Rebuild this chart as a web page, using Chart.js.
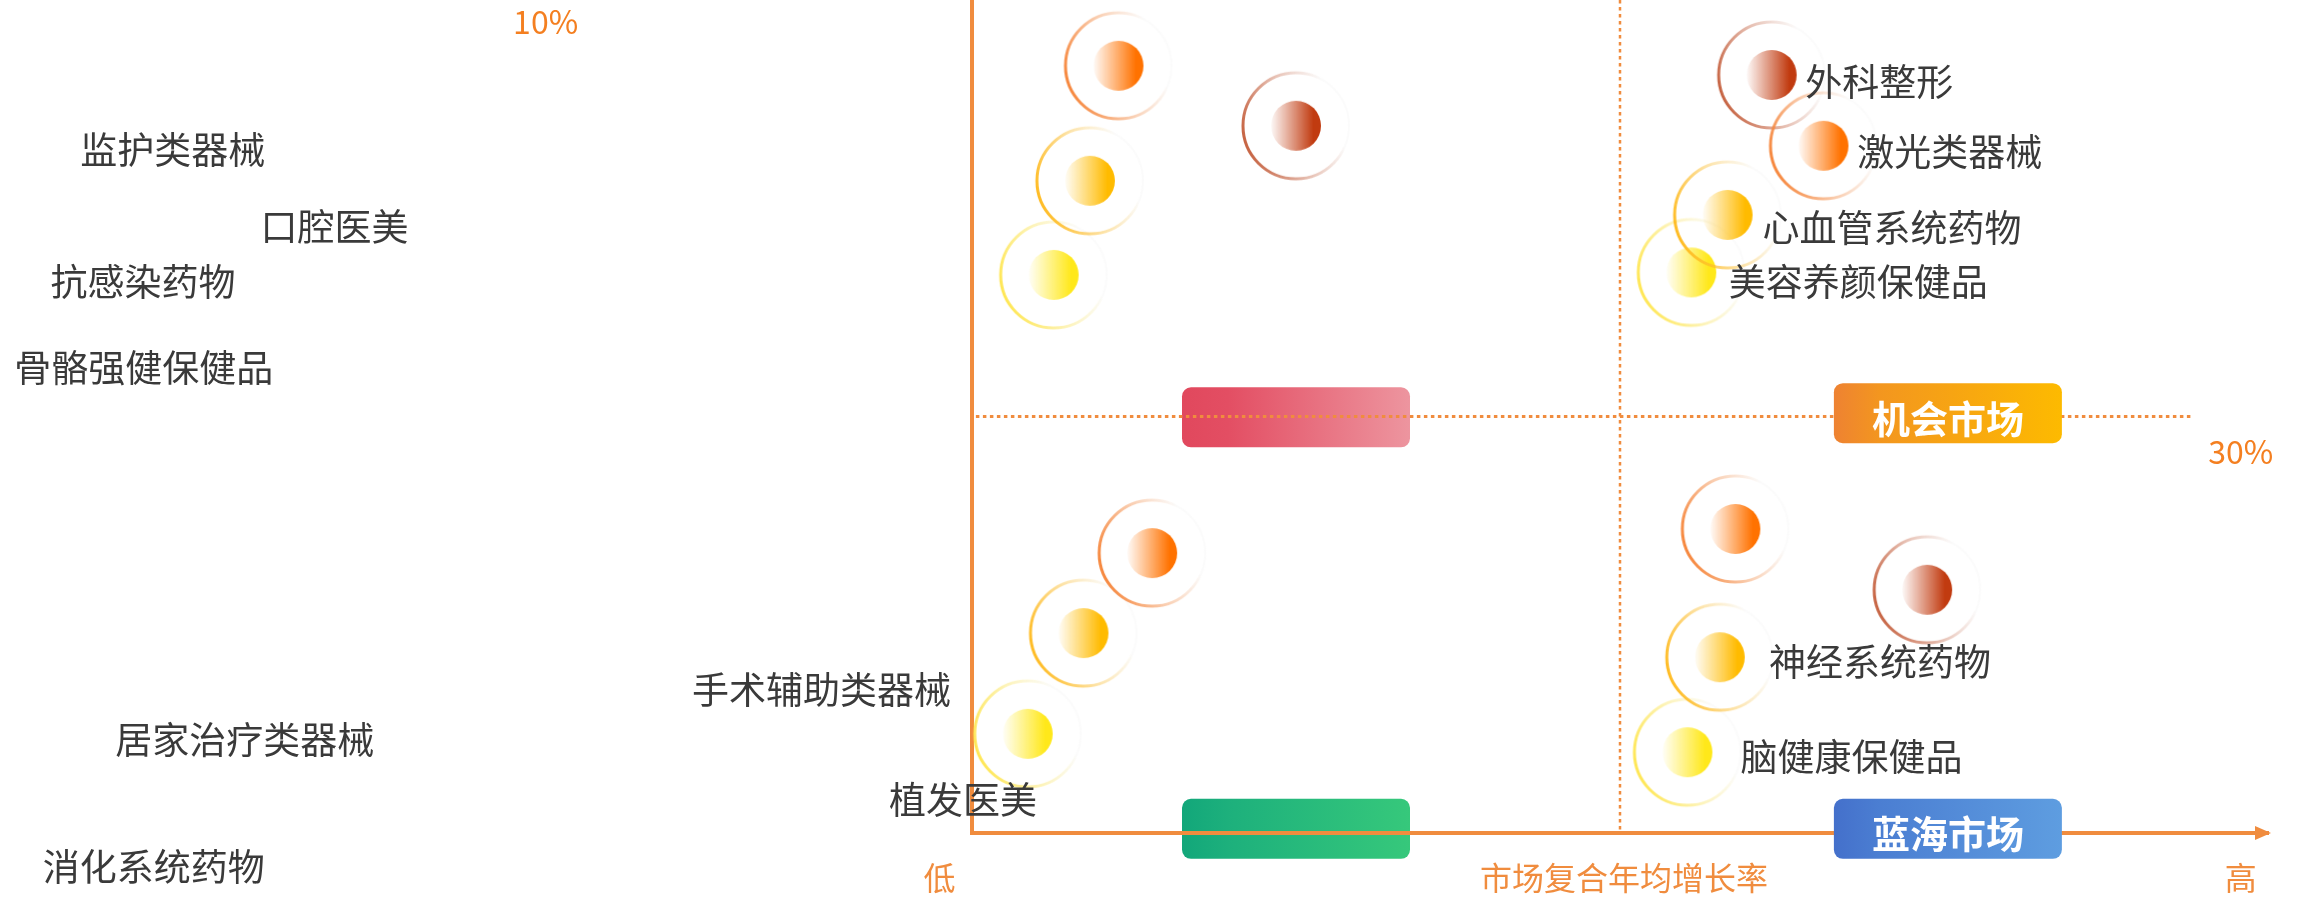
<!DOCTYPE html>
<html>
<head>
<meta charset="utf-8">
<script src="https://cdn.jsdelivr.net/npm/chart.js@4.4.1/dist/chart.umd.min.js"></script>
<style>
  html, body { margin: 0; padding: 0; background: #fff; }
  #wrap { width: 2300px; height: 901px; position: relative; }
</style>
</head>
<body>
<div id="wrap"><canvas id="matrix"></canvas></div>
<script>
// 细分领域：横轴 = 市场复合年均增长率（0 低 ~ 100 高），纵轴 0 ~ 100，象限分界 50
const names = ['监护类器械', '口腔医美', '抗感染药物', '骨骼强健保健品',
  '外科整形', '激光类器械', '心血管系统药物', '美容养颜保健品',
  '手术辅助类器械', '消化系统药物', '', '居家治疗类器械', '植发医美',
  '神经系统药物', '脑健康保健品'];
const groups = [0, 1, 2, 3, 1, 0, 2, 3, 0, 2, 3, 0, 1, 2, 3];
const xValues = [11.3, 25.0, 9.1, 6.3, 61.7, 65.7, 58.3, 55.5, 13.9, 8.6, 4.3, 58.9, 73.7, 57.7, 55.2];
const yValues = [92.1, 84.9, 78.3, 67.0, 91.0, 82.5, 74.2, 67.3, 33.6, 24.0, 11.9, 36.5, 29.2, 21.1, 9.7];
// label anchors, same axis units
const labelX = [-68.8, -54.9, -71.1, -73.9, 64.3, 68.3, 61.0, 58.4, -21.6, -71.7, null, -66.1, -6.4, 61.5, 59.3];
const labelY = [82.0, 72.7, 66.1, 55.8, 90.2, 81.8, 72.6, 66.1, 17.2, -4.1, null, 11.2, 4.0, 20.5, 9.1];

const groupNames = ['器械', '医美', '药物', '保健品'];
const quadrantNames = ['', '机会市场', '', '蓝海市场'];
const quadrantX = [25.0, 75.3, 25.0, 75.3];
const quadrantY = [49.9, 50.4, 0.5, 0.5];

const axisLabels = ['低', '市场复合年均增长率', '高'];
const axisLabelX = [-2.5, 50.3, 97.9];
const axisLabelY = -5.4;
const percentLabels = ['10%', '30%'];
const percentX = [-32.9, 97.9];
const percentY = [97.4, 45.7];

const ORANGE = '#f08c3e';
const palette = [
  {dot: [255, 114, 0], ring: [246, 132, 56]},
  {dot: [193, 59, 16], ring: [197, 96, 62]},
  {dot: [255, 187, 0], ring: [255, 186, 30]},
  {dot: [255, 232, 26], ring: [255, 230, 80]}
];
const boxColors = [
  ['#e1485d', '#e34e63', '#ed959f'],
  ['#ee8232', '#f3961f', '#fdba00'],
  ['#12a77a', '#1db07c', '#36c87b'],
  ['#4470cb', '#4b7ed2', '#5e9de0']
];

function rgba(c, a) { return 'rgba(' + c[0] + ',' + c[1] + ',' + c[2] + ',' + a + ')'; }

function makeMarker(c) {
  const R = 53, r = 25, pad = 9, S = 2 * (R + pad);
  const cv = document.createElement('canvas');
  cv.width = S; cv.height = S;
  const g = cv.getContext('2d');
  const m = S / 2;
  // faint halo
  g.strokeStyle = 'rgba(235,235,235,0.18)';
  g.lineWidth = 2;
  g.shadowColor = 'rgba(0,0,0,0.05)';
  g.shadowBlur = 4;
  g.beginPath(); g.arc(m, m, R, 0, Math.PI * 2); g.stroke();
  g.shadowBlur = 0;
  // ring
  const rg = g.createLinearGradient(m - R, m + R * 0.35, m + R, m - R * 0.35);
  rg.addColorStop(0, rgba(c.ring, 1));
  rg.addColorStop(0.45, rgba(c.ring, 0.4));
  rg.addColorStop(0.85, rgba(c.ring, 0));
  g.strokeStyle = rg;
  g.lineWidth = 3;
  g.beginPath(); g.arc(m, m, R, 0, Math.PI * 2); g.stroke();
  // dot
  const dg = g.createLinearGradient(m - r, 0, m + r, 0);
  dg.addColorStop(0, rgba(c.dot, 0.03));
  dg.addColorStop(0.85, rgba(c.dot, 1));
  dg.addColorStop(1, rgba(c.dot, 1));
  g.fillStyle = dg;
  g.beginPath(); g.arc(m, m, r, 0, Math.PI * 2); g.fill();
  return cv;
}

function drawBox(ctx, x, y, k) {
  const cx = x.getPixelForValue(quadrantX[k]);
  const cy = y.getPixelForValue(quadrantY[k]);
  const w = 228, h = 60;
  const g = ctx.createLinearGradient(cx - w / 2, 0, cx + w / 2, 0);
  g.addColorStop(0, boxColors[k][0]);
  g.addColorStop(0.2, boxColors[k][1]);
  g.addColorStop(1, boxColors[k][2]);
  ctx.fillStyle = g;
  ctx.beginPath();
  ctx.roundRect(cx - w / 2, cy - h / 2, w, h, 9);
  ctx.fill();
  if (quadrantNames[k]) {
    ctx.fillStyle = '#fff';
    ctx.font = 'bold 38px "Noto Sans CJK SC"';
    ctx.textAlign = 'center';
    ctx.textBaseline = 'middle';
    ctx.fillText(quadrantNames[k], cx, cy + 5);
  }
}

const matrixPlugin = {
  id: 'matrix',
  beforeDraw(chart) {
    const {ctx, scales: {x, y}} = chart;
    ctx.save();
    ctx.fillStyle = '#fff';
    ctx.fillRect(0, 0, chart.width, chart.height);
    drawBox(ctx, x, y, 0);
    drawBox(ctx, x, y, 2);
    ctx.strokeStyle = ORANGE;
    ctx.setLineDash([3.5, 3.5]);
    ctx.lineWidth = 3;
    ctx.beginPath();
    ctx.moveTo(x.getPixelForValue(0.3), y.getPixelForValue(50));
    ctx.lineTo(x.getPixelForValue(94.2), y.getPixelForValue(50));
    ctx.stroke();
    ctx.lineWidth = 2.5;
    ctx.beginPath();
    ctx.moveTo(x.getPixelForValue(50), y.getPixelForValue(100));
    ctx.lineTo(x.getPixelForValue(50), y.getPixelForValue(0));
    ctx.stroke();
    ctx.restore();
  },
  beforeDatasetsDraw(chart) {
    const {ctx, scales: {x, y}} = chart;
    ctx.save();
    // arrow head on the x axis
    const tx = x.getPixelForValue(100) + 3, ty = y.getPixelForValue(0);
    ctx.fillStyle = ORANGE;
    ctx.beginPath();
    ctx.moveTo(tx, ty);
    ctx.lineTo(tx - 16, ty - 7);
    ctx.lineTo(tx - 16, ty + 7);
    ctx.closePath();
    ctx.fill();
    drawBox(ctx, x, y, 1);
    drawBox(ctx, x, y, 3);
    ctx.restore();
  },
  afterDatasetsDraw(chart) {
    const {ctx, scales: {x, y}} = chart;
    ctx.save();
    ctx.textBaseline = 'middle';
    ctx.font = '37px "Noto Sans CJK SC"';
    ctx.fillStyle = '#3a3a3a';
    ctx.textAlign = 'left';
    names.forEach((n, i) => {
      if (!n || labelX[i] == null) return;
      ctx.fillText(n, x.getPixelForValue(labelX[i]), y.getPixelForValue(labelY[i]));
    });
    ctx.textAlign = 'center';
    ctx.font = '32px "Noto Sans CJK SC"';
    ctx.fillStyle = ORANGE;
    axisLabels.forEach((t, i) => {
      ctx.fillText(t, x.getPixelForValue(axisLabelX[i]), y.getPixelForValue(axisLabelY));
    });
    ctx.fillStyle = '#f47f20';
    percentLabels.forEach((t, i) => {
      ctx.fillText(t, x.getPixelForValue(percentX[i]), y.getPixelForValue(percentY[i]));
    });
    ctx.restore();
  }
};

const datasets = groupNames.map((g, gi) => ({
  label: g,
  data: xValues.map((v, i) => ({x: v, y: yValues[i], name: names[i], g: groups[i]}))
    .filter(p => p.g === gi),
  pointStyle: makeMarker(palette[gi]),
  pointRadius: 60,
  pointHoverRadius: 60,
  clip: false
}));

const axisOpts = {
  type: 'linear', min: 0, max: 100,
  ticks: {display: false},
  grid: {display: false, drawTicks: false},
  border: {display: true, color: ORANGE, width: 4}
};

new Chart(document.getElementById('matrix'), {
  type: 'scatter',
  data: {datasets},
  options: {
    responsive: true,
    maintainAspectRatio: false,
    animation: false,
    devicePixelRatio: 1,
    events: [],
    layout: {autoPadding: false, padding: {left: 972, right: 32, top: 0, bottom: 68}},
    plugins: {legend: {display: false}, tooltip: {enabled: false}},
    scales: {x: axisOpts, y: axisOpts}
  },
  plugins: [matrixPlugin]
});
</script>
</body>
</html>
